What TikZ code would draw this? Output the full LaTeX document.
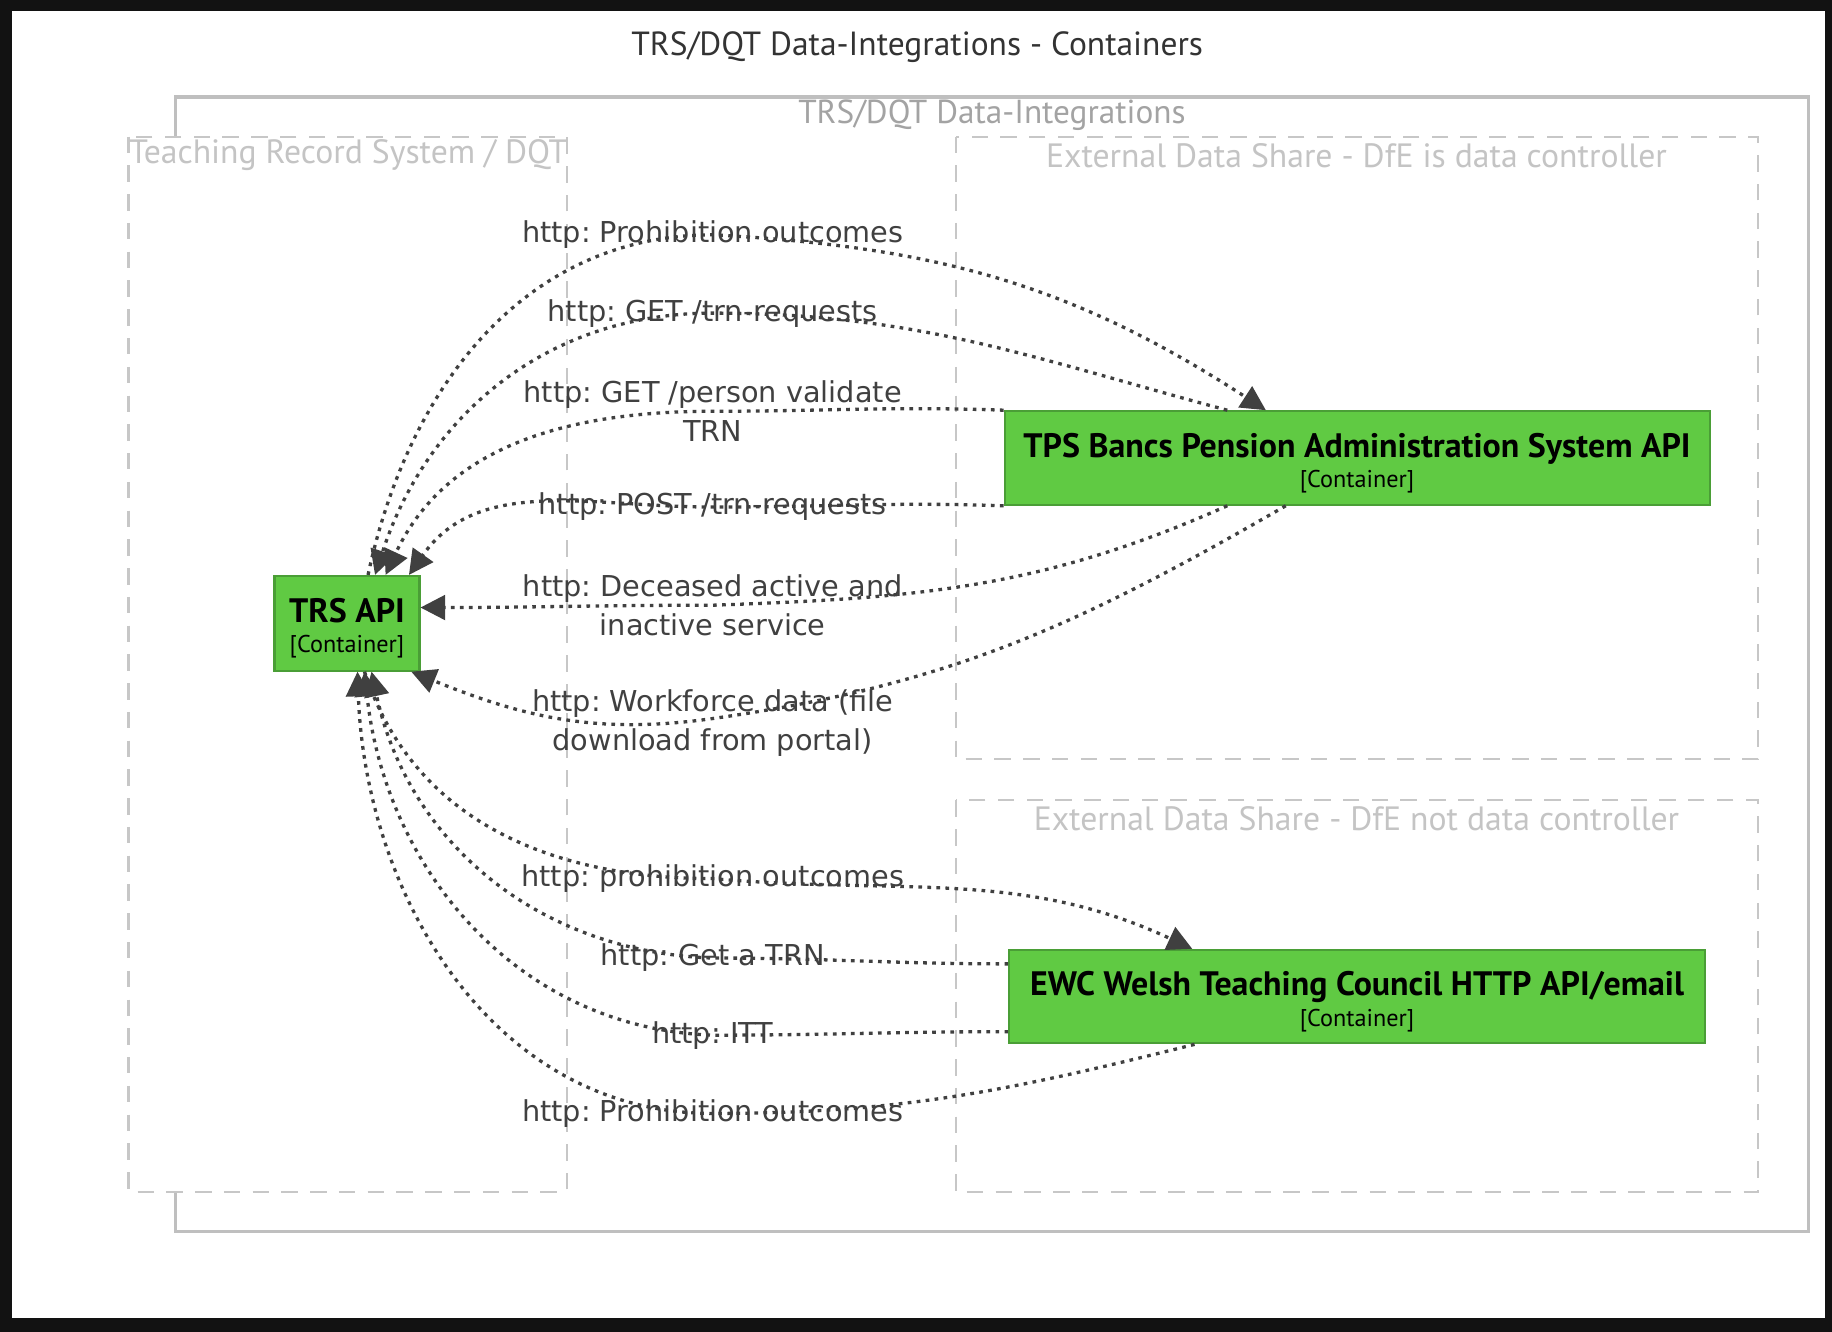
\documentclass[tikz,border=0pt]{standalone}
\usepackage{fontspec}
\setmainfont{PT Sans}
\newfontfamily\relfont{DejaVu Sans}
\usetikzlibrary{arrows.meta}
\definecolor{contgreen}{HTML}{60CA43}
\definecolor{contedge}{HTML}{4A9E36}
\definecolor{relgray}{HTML}{404040}
\frenchspacing
\newcommand{\conttext}[1]{\rule{0pt}{8.3pt}{\bfseries\fontsize{8.25}{9}\selectfont #1}\\[-4.6pt]{\fontsize{5.9}{7}\selectfont [Container]}}
\begin{document}
\begin{tikzpicture}[x=0.01cm,y=-0.01cm,>={Triangle[length=6pt,width=6pt]},
  bound/.style={draw=black!22,dash pattern=on 4pt off 3pt,fill=white,line width=.5pt},
  boundlbl/.style={text=black!23,font=\fontsize{8.2}{9}\selectfont,inner sep=0},
  cont/.style={draw=contedge,fill=contgreen,line width=.5pt,align=center,inner sep=0},
  rel/.style={draw=relgray,line width=.8pt,dash pattern=on .9pt off 1.3pt},
  rellbl/.style={text=relgray,font=\relfont\fontsize{7}{9.4}\selectfont,align=center,inner sep=0}]
\useasboundingbox (0,0) rectangle (1568,1140);
\fill[black!93](0,0) rectangle (1568,1140);
\fill[white](10,9) rectangle (1562,1128);

\node[text=black!80,font=\fontsize{8.15}{9}\selectfont] (title) at (785,40) {TRS/DQT Data-Integrations - Containers};

% boundaries
\draw[black!25,line width=.8pt](150,83) rectangle (1548,1054);
\node[text=black!36,font=\fontsize{8.1}{9}\selectfont] (integ) at (849,99) {TRS/DQT Data-Integrations};
\draw[bound](110,117) rectangle (485,1020);
\draw[bound](818,117) rectangle (1505,650);
\draw[bound](818,685) rectangle (1505,1020);
\node[boundlbl,anchor=west] (trsb) at (110,133) {Teaching Record System / DQT};
\node[boundlbl] (extb) at (1161,133) {External Data Share - DfE is data controller};
\node[boundlbl] (extnb) at (1161,701) {External Data Share - DfE not data controller};

% containers
\node[cont,minimum width=12.4mm,minimum height=8.1mm] (trs) at (297,533.5) {\conttext{TRS API}};
\node[cont,minimum width=60.3mm,minimum height=8mm] (tps) at (1161.5,392) {\conttext{TPS Bancs Pension Administration System API}};
\node[cont,minimum width=59.5mm,minimum height=8mm] (ewc) at (1161.5,853) {\conttext{EWC Welsh Teaching Council HTTP API/email}};

% relation labels
\node[rellbl] (l1) at (610,201) {http: Prohibition outcomes};
\node[rellbl] (l2) at (610,268) {http: GET /trn-requests};
\node[rellbl] (l3) at (610,352) {http: GET /person validate\\TRN};
\node[rellbl] (l4) at (610,434) {http: POST /trn-requests};
\node[rellbl] (l5) at (610,518) {http: Deceased active and\\inactive service};
\node[rellbl] (l6) at (610,619) {http: Workforce data (file\\download from portal)};
\node[rellbl] (l7) at (610,752) {http: prohibition outcomes};
\node[rellbl] (l8) at (610,820) {http: Get a TRN};
\node[rellbl] (l9) at (610,886) {http: ITT};
\node[rellbl] (l10) at (610,953) {http: Prohibition outcomes};

% relations to TPS
\draw[rel,->]([xshift=1.8mm]trs.north) to[out=78,in=180] (l1.center) to[out=-3,in=147] ([xshift=-7.8mm]tps.north);
\draw[rel,->]([xshift=-11.1mm]tps.north) to[out=165,in=0] (l2.center) to[out=180,in=72] ([xshift=2.4mm]trs.north);
\draw[rel,->](tps.north west) to[out=178,in=0] (l3.center) to[out=180,in=65] ([xshift=3.3mm]trs.north);
\draw[rel,->](tps.south west) to[out=178,in=0] (l4.center) to[out=180,in=55] ([xshift=5.3mm]trs.north);
\draw[rel,->]([xshift=-11.1mm]tps.south) to[out=204,in=2] (l5.center) to[out=180,in=0] ([yshift=1.35mm]trs.east);
\draw[rel,->]([xshift=-6.1mm]tps.south) to[out=210,in=8] ([yshift=0.4mm]l6.center) to[out=188,in=-22] ([xshift=5.5mm]trs.south);

% relations to EWC
\draw[rel,->]([xshift=1.5mm]trs.south) to[out=-72,in=180] (l7.center) to[out=-5,in=155] ([xshift=-14.1mm]ewc.north);
\draw[rel,->]([yshift=2.8mm]ewc.west) to[out=180,in=0] (l8.center) to[out=178,in=-78] ([xshift=2.1mm]trs.south);
\draw[rel,->]([yshift=-3mm]ewc.west) to[out=180,in=0] (l9.center) to[out=178,in=-84] ([xshift=1.5mm]trs.south);
\draw[rel,->]([xshift=-13.9mm]ewc.south) to[out=194,in=0] (l10.center) to[out=180,in=-88] ([xshift=0.9mm]trs.south);
\end{tikzpicture}
\end{document}
